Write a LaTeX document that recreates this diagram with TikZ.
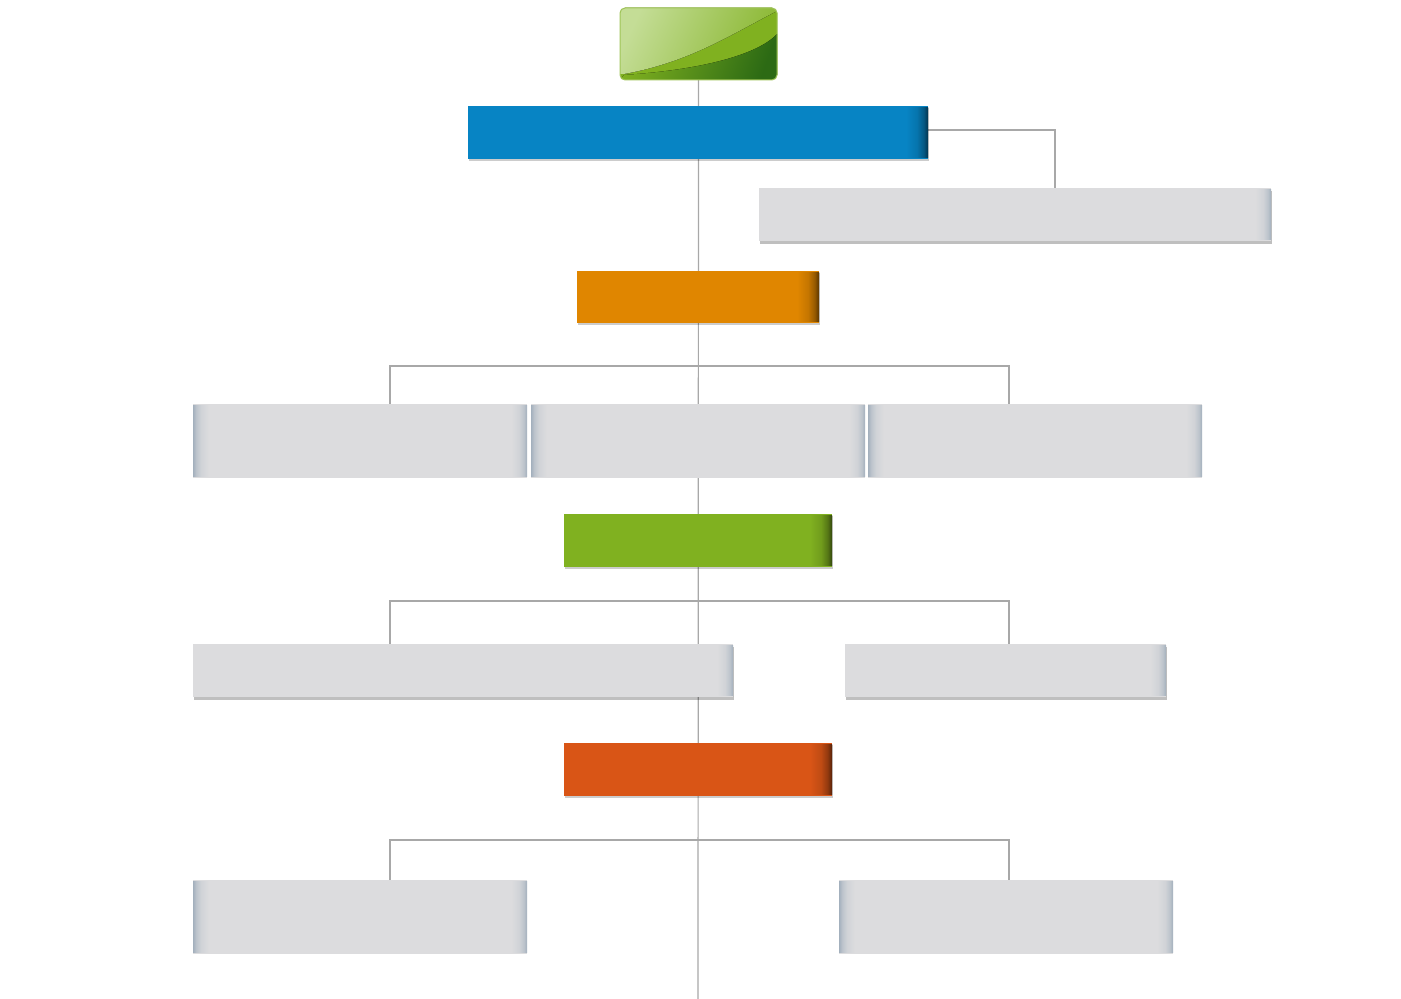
\documentclass[tikz,border=0pt]{standalone}
\usetikzlibrary{backgrounds,shadows,calc}
\definecolor{cblue}{HTML}{0784C4}
\definecolor{corange}{HTML}{E08600}
\definecolor{cgreen}{HTML}{80B120}
\definecolor{cred}{HTML}{D95516}
\definecolor{cgrey}{HTML}{DCDCDE}
\definecolor{cedge}{HTML}{A3B0BD}
\definecolor{cline}{HTML}{A8A8A8}
\definecolor{gdark}{HTML}{2C6A14}
\definecolor{glight}{HTML}{C4DD96}
\colorlet{sa}{cgrey}
\colorlet{sb}{cedge}
\pgfdeclarehorizontalshading[sa,sb]{edgeR}{100bp}{color(0bp)=(sa); color(25bp)=(sa); color(50bp)=(sa!80!sb); color(65bp)=(sa!45!sb); color(75bp)=(sb); color(100bp)=(sb)}
\pgfdeclarehorizontalshading[sa,sb]{edgeL}{100bp}{color(0bp)=(sb); color(25bp)=(sb); color(35bp)=(sa!45!sb); color(50bp)=(sa!80!sb); color(75bp)=(sa); color(100bp)=(sa)}
\tikzset{
  base/.style={rectangle, inner sep=0pt, outer sep=0pt, draw=none},
  cbox/.style={base, fill=#1,
    general shadow={fill=black, opacity=0.2, shadow xshift=0.6pt, shadow yshift=-1.2pt}},
  gboxr/.style={base, fill=cgrey,
    general shadow={fill=black, opacity=0.25, shadow xshift=0.4pt, shadow yshift=-1.5pt}},
  gboxb/.style={base, fill=cgrey},
  conn/.style={draw=cline, line width=0.6pt},
}
\begin{document}
\begin{tikzpicture}[x=0.5pt,y=0.5pt]
\useasboundingbox (0,0) rectangle (1401,999);

% top glossy green box
\node[base, fill=cgreen, rounded corners=2.5pt, minimum width=78.5pt, minimum height=36pt] (top) at (698.5,955) {};
\begin{scope}
  \clip[rounded corners=2.5pt] (top.south west) rectangle (top.north east);
  \fill[cgreen] (618,917) rectangle (779,993);
  \fill[left color=glight, right color=cgreen!92!white, shading angle=65]
    (624,925) .. controls (690,937) and (730,964) .. (779,989) -- (779,993) -- (618,993) -- (618,925) -- cycle;
  \fill[left color=cgreen, right color=gdark, shading angle=70]
    (624,924) .. controls (700,929) and (760,944) .. (779,967) -- (779,917) -- (618,917) -- cycle;
\end{scope}
\draw[cgreen!75!white, line width=0.5pt, rounded corners=2.5pt] (top.south west) rectangle (top.north east);

\node[cbox=cblue, minimum width=230pt, minimum height=26.5pt] (blue) at (698,866.5) {};
\node[gboxr, minimum width=256pt, minimum height=26.5pt] (g1) at (1015,784.5) {};
\node[cbox=corange, minimum width=121pt, minimum height=26pt] (orange) at (698,702) {};

\node[gboxb, minimum width=167pt, minimum height=37pt] (g2a) at (360,558) {};
\node[gboxb, minimum width=167pt, minimum height=37pt] (g2b) at (698,558) {};
\node[gboxb, minimum width=167pt, minimum height=37pt] (g2c) at (1035,558) {};

\node[cbox=cgreen, minimum width=134pt, minimum height=26.5pt] (green) at (698,458.5) {};

\node[gboxr, minimum width=270pt, minimum height=26.5pt] (g3a) at (463,328.5) {};
\node[gboxr, minimum width=160.5pt, minimum height=26.5pt] (g3b) at (1005.5,328.5) {};

\node[cbox=cred, minimum width=134pt, minimum height=26.5pt] (red) at (698,229.5) {};

\node[gboxb, minimum width=167pt, minimum height=37pt] (g4a) at (360,82) {};
\node[gboxb, minimum width=167pt, minimum height=37pt] (g4b) at (1006,82) {};

% edge shading of the boxes
\foreach \n/\c in {blue/cblue, orange/corange, green/cgreen, red/cred}{
  \colorlet{sa}{\c}\colorlet{sb}{\c!40!black}
  \shade[shading=edgeR]
    ([xshift=-11pt,yshift=-0.6pt]\n.north east) rectangle ([yshift=0.5pt]\n.south east);
}
\colorlet{sa}{cgrey}\colorlet{sb}{cedge}
\foreach \n in {g1, g3a, g3b, g2a, g2b, g2c, g4a, g4b}
  \shade[shading=edgeR]
    ([xshift=-8pt,yshift=-0.6pt]\n.north east) rectangle ([yshift=0.5pt]\n.south east);
\foreach \n in {g2a, g2b, g2c, g4a, g4b}
  \shade[shading=edgeL]
    ([yshift=-0.6pt]\n.north west) rectangle ([xshift=8pt,yshift=0.5pt]\n.south west);

\coordinate (bend) at (698,0);
\coordinate (b1) at (1055,869);
\coordinate (j2l) at (390,633);
\coordinate (j2r) at (1009,633);
\coordinate (j3l) at (390,398);
\coordinate (j3r) at (1009,398);
\coordinate (j4l) at (390,159);
\coordinate (j4r) at (1009,159);

\begin{scope}[on background layer]
  \fill[white] (0,0) rectangle (1401,999);
  \draw[conn] (top.south) -- (bend);
  \draw[conn] (blue.east |- b1) -- (b1) -- (b1 |- g1.north);
  \draw[conn] (j2l |- g2a.north) -- (j2l) -- (j2r) -- (j2r |- g2c.north);
  \draw[conn] (j3l |- g3a.north) -- (j3l) -- (j3r) -- (j3r |- g3b.north);
  \draw[conn] (j4l |- g4a.north) -- (j4l) -- (j4r) -- (j4r |- g4b.north);
\end{scope}
\end{tikzpicture}
\end{document}
